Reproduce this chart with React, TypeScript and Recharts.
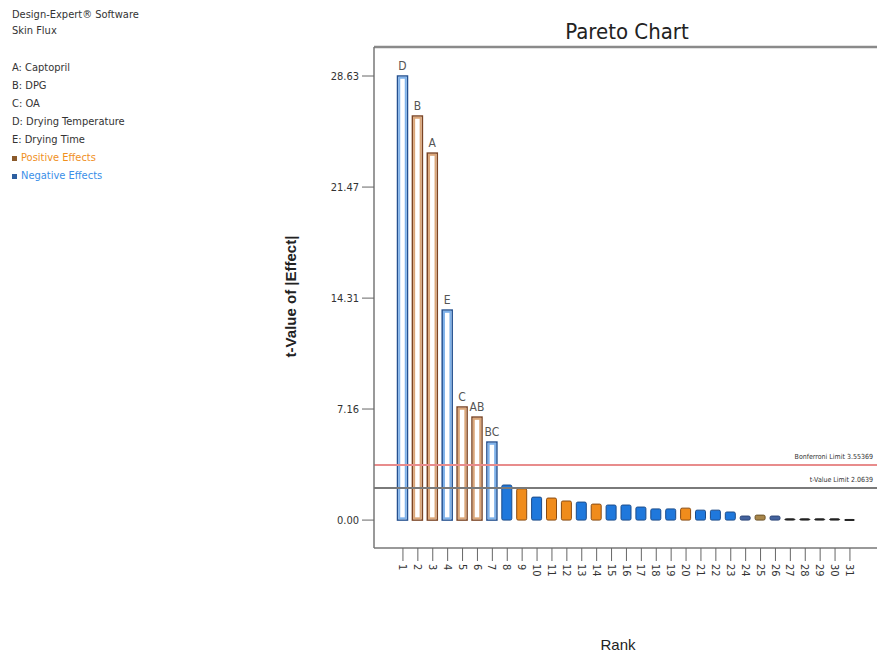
import React from 'react';
import {
  BarChart,
  Bar,
  Cell,
  XAxis,
  YAxis,
  ReferenceLine,
  LabelList,
} from 'recharts';

// ranks on the x axis
const ranks = [
  1, 2, 3, 4, 5, 6, 7, 8, 9, 10, 11, 12, 13, 14, 15, 16, 17, 18, 19, 20,
  21, 22, 23, 24, 25, 26, 27, 28, 29, 30, 31,
];
// term names printed above the significant bars
const terms = ['D', 'B', 'A', 'E', 'C', 'AB', 'BC'];
// t-value of |effect|
const tValues = [
  28.63, 26.05, 23.66, 13.54, 7.29, 6.64, 5.03, 2.26, 2.02, 1.48, 1.42, 1.23,
  1.16, 1.03, 0.97, 0.97, 0.84, 0.72, 0.72, 0.77, 0.64, 0.64, 0.52, 0.26,
  0.32, 0.26, 0.08, 0.08, 0.08, 0.08, 0.04,
];
// sign of each effect
const effects = [
  'neg', 'pos', 'pos', 'neg', 'pos', 'pos', 'neg', 'neg', 'pos', 'neg', 'pos',
  'pos', 'neg', 'pos', 'neg', 'neg', 'neg', 'neg', 'neg', 'pos', 'neg', 'neg',
  'neg', 'neg', 'pos', 'neg', 'neg', 'neg', 'neg', 'neg', 'neg',
];
const yTicks = [0, 7.16, 14.31, 21.47, 28.63];
const bonferroniLimit = 3.55369;
const tValueLimit = 2.0639;

const legendLines = [
  'A: Captopril',
  'B: DPG',
  'C: OA',
  'D: Drying Temperature',
  'E: Drying Time',
];

const data = ranks.map((rank, i) => ({
  rank,
  term: terms[i] ?? '',
  value: tValues[i],
  effect: effects[i],
  model: i < terms.length,
}));

const NARROW = "'Liberation Sans Narrow', 'DejaVu Sans Condensed', 'Arial Narrow', sans-serif";

const colorsFor = (d: { value: number; effect: string }) => {
  if (d.value < 0.15) return { fill: '#222', stroke: '#222' };
  if (d.value < 0.4)
    return d.effect === 'pos'
      ? { fill: '#a8864a', stroke: '#6b5228' }
      : { fill: '#44639e', stroke: '#2c4577' };
  return d.effect === 'pos'
    ? { fill: '#f08c1c', stroke: '#8a4c12' }
    : { fill: '#1f78dc', stroke: '#1c4c8a' };
};

const BarShape = (props: any) => {
  const { x, y, width, height, payload } = props;
  if (payload.model) {
    const outer = payload.effect === 'pos' ? '#7a4424' : '#24508f';
    const inner = payload.effect === 'pos' ? '#dba77a' : '#7fb2ea';
    return (
      <g>
        <rect x={x} y={y} width={width} height={height} fill="#fff" stroke={outer} strokeWidth={1.5} />
        <rect x={x + 1.75} y={y + 1.75} width={width - 3.5} height={Math.max(height - 3.5, 0)} fill="#fff" stroke={inner} strokeWidth={2} />
      </g>
    );
  }
  const c = colorsFor(payload);
  return (
    <rect
      x={x}
      y={y}
      width={width}
      height={Math.max(height, 1)}
      rx={1.5}
      fill={c.fill}
      stroke={c.stroke}
      strokeWidth={1}
    />
  );
};

const RankTick = (props: any) => {
  const { x, y, payload } = props;
  return (
    <g transform={`translate(${x},${y})`}>
      <text transform="rotate(90)" x={0} y={0} dy="0.35em" textAnchor="start" fill="#333" fontSize={11} fontFamily={NARROW}>
        {payload.value}
      </text>
    </g>
  );
};

// limit labels sit right-aligned just inside the visible edge
const limitLabel = (text: string) => (props: any) => {
  const { viewBox } = props;
  return (
    <text x={873} y={viewBox.y - 6} textAnchor="end" fill="#333" fontSize={7} fontFamily={NARROW}>
      {text}
    </text>
  );
};

const App: React.FC = () => {
  return (
    <div
      style={{
        position: 'absolute',
        left: 0,
        top: 0,
        width: 877,
        height: 657,
        overflow: 'hidden',
        background: '#fff',
        fontFamily: NARROW,
        color: '#333',
      }}
    >
      {/* info block */}
      <div style={{ position: 'absolute', left: 12, top: 7, fontSize: 11, lineHeight: '16px' }}>
        <div>Design-Expert® Software</div>
        <div>Skin Flux</div>
      </div>
      <div style={{ position: 'absolute', left: 12, top: 59, fontSize: 11, lineHeight: '18px' }}>
        {legendLines.map((l) => (
          <div key={l}>{l}</div>
        ))}
        <div style={{ color: '#f0901e' }}>
          <span style={{ display: 'inline-block', width: 5, height: 5, background: '#8b5a2b', marginRight: 4, verticalAlign: 'middle' }} />
          Positive Effects
        </div>
        <div style={{ color: '#3a8fe8' }}>
          <span style={{ display: 'inline-block', width: 5, height: 5, background: '#2d5fa0', marginRight: 4, verticalAlign: 'middle' }} />
          Negative Effects
        </div>
      </div>

      <div style={{ position: 'absolute', left: 527, top: 19, width: 200, textAlign: 'center', fontSize: 22, color: '#222' }}>
        Pareto Chart
      </div>
      <div
        style={{
          position: 'absolute',
          left: 190,
          top: 288,
          width: 200,
          textAlign: 'center',
          fontSize: 15,
          fontWeight: 'bold',
          fontFamily: "'Liberation Sans', Arial, sans-serif",
          color: '#222',
          transform: 'rotate(-90deg)',
        }}
      >
        t-Value of |Effect|
      </div>
      <div
        style={{
          position: 'absolute',
          left: 568,
          top: 636,
          width: 100,
          textAlign: 'center',
          fontSize: 15,
          fontFamily: "'Liberation Sans', Arial, sans-serif",
          color: '#222',
        }}
      >
        Rank
      </div>

      <div style={{ position: 'absolute', left: 0, top: 0 }}>
        <BarChart
          width={920}
          height={657}
          data={data}
          margin={{ top: 46, right: 20, bottom: 49, left: 314 }}
          barSize={10}
        >
          <XAxis
            xAxisId="top"
            orientation="top"
            dataKey="rank"
            height={1}
            tick={false}
            tickLine={false}
            axisLine={{ stroke: '#8a8a8a', strokeWidth: 2.5 }}
            padding={{ left: 21.5, right: 42.6 }}
          />
          <XAxis
            dataKey="rank"
            height={60}
            interval={0}
            padding={{ left: 21.5, right: 42.6 }}
            axisLine={{ stroke: '#777', strokeWidth: 1.5 }}
            tickLine={{ stroke: '#666' }}
            tickSize={13}
            tickMargin={3}
            tick={<RankTick />}
          />
          <YAxis
            type="number"
            domain={[-1.8, 30.5]}
            allowDataOverflow
            ticks={yTicks}
            interval={0}
            width={60}
            axisLine={{ stroke: '#777', strokeWidth: 1.5 }}
            tickLine={{ stroke: '#666' }}
            tickSize={12}
            tickMargin={3}
            tick={{ fill: '#333', fontSize: 11, fontFamily: NARROW }}
            tickFormatter={(v: number) => v.toFixed(2)}
          />
          <ReferenceLine
            y={bonferroniLimit}
            stroke="#e88c8c"
            strokeWidth={2}
            label={limitLabel('Bonferroni Limit 3.55369')}
          />
          <ReferenceLine
            y={tValueLimit}
            stroke="#7a7a7a"
            strokeWidth={2}
            label={limitLabel('t-Value Limit 2.0639')}
          />
          <Bar dataKey="value" shape={<BarShape />} isAnimationActive={false}>
            {data.map((d) => (
              <Cell key={d.rank} />
            ))}
            <LabelList dataKey="term" position="top" offset={6} fill="#555" fontSize={12} fontFamily={NARROW} />
          </Bar>
        </BarChart>
      </div>
    </div>
  );
};

export default App;
